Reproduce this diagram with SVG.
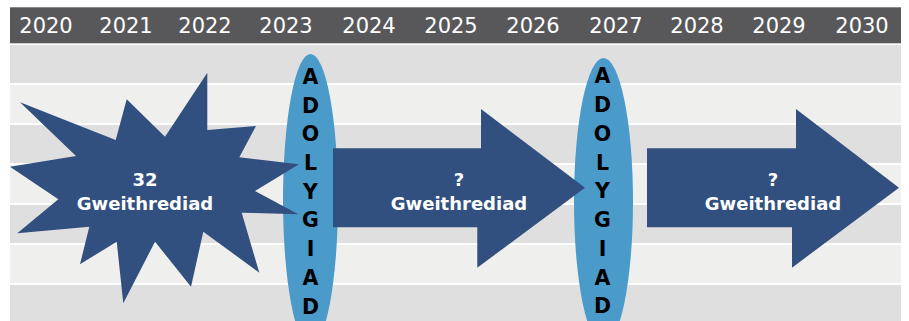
<svg xmlns="http://www.w3.org/2000/svg" width="909" height="321" viewBox="0 0 909 321">
  <style>
    .band-d { fill: #dfdfdf; }
    .band-l { fill: #efefee; }
    .year { font-family: "DejaVu Sans", "Liberation Sans", sans-serif; font-size: 21px; fill: #ffffff; text-anchor: middle; }
    .shape { fill: #31507f; }
    .review { fill: #4a9bca; }
    .vlet { font-family: "DejaVu Sans", "Liberation Sans", sans-serif; font-size: 20.5px; font-weight: bold; fill: #000000; text-anchor: middle; }
    .lbl { font-family: "DejaVu Sans", "Liberation Sans", sans-serif; font-size: 18px; font-weight: bold; fill: #ffffff; text-anchor: middle; }
  </style>
  <rect x="0" y="0" width="909" height="321" fill="#ffffff"/>
  <g id="timeline">
    <rect x="10" y="7.3" width="891" height="36" fill="#58585a"/>
    <rect class="band-d" x="10" y="45" width="891" height="38"/>
    <rect class="band-l" x="10" y="85" width="891" height="38"/>
    <rect class="band-d" x="10" y="125" width="891" height="38"/>
    <rect class="band-l" x="10" y="165" width="891" height="38"/>
    <rect class="band-d" x="10" y="205" width="891" height="38"/>
    <rect class="band-l" x="10" y="245" width="891" height="38"/>
    <rect class="band-d" x="10" y="285" width="891" height="36"/>
    <text class="year" x="46" y="33">2020</text>
    <text class="year" x="126" y="33">2021</text>
    <text class="year" x="205" y="33">2022</text>
    <text class="year" x="286" y="33">2023</text>
    <text class="year" x="369" y="33">2024</text>
    <text class="year" x="451" y="33">2025</text>
    <text class="year" x="533" y="33">2026</text>
    <text class="year" x="616" y="33">2027</text>
    <text class="year" x="697" y="33">2028</text>
    <text class="year" x="779" y="33">2029</text>
    <text class="year" x="862" y="33">2030</text>
  </g>
  <g id="review1">
    <ellipse class="review" cx="310.5" cy="200" rx="27.5" ry="146"/>
  </g>
  <g id="review2">
    <ellipse class="review" cx="603.5" cy="201.5" rx="29.5" ry="143.5"/>
  </g>
  <g id="star">
    <polygon class="shape" points="10,166.7 76,156 20,102.3 115.7,140 126.7,99.3 165,136.7 207.3,72.7 207.3,130 256,126 239.3,157.3 299,164.3 255,191 298.3,214.3 241.7,212.7 259.3,272.7 203.3,231.7 191,286.7 155,241.7 123.3,303.3 116.7,241.7 80,264.3 89.3,226.7 17.3,233.3 58.3,199.3"/>
    <text class="lbl" x="145" y="186">32</text>
    <text class="lbl" x="145" y="210">Gweithrediad</text>
  </g>
  <g id="arrow1">
    <polygon class="shape" points="333,148.3 481,148.3 481,109 585,187.7 477.3,267.7 477.3,227.3 333,227.3"/>
    <text class="lbl" x="459" y="186">?</text>
    <text class="lbl" x="459" y="210">Gweithrediad</text>
  </g>
  <g id="arrow2">
    <polygon class="shape" points="647,148.3 796,148.3 796,109 899,187.7 792,267.7 792,227.3 647,227.3"/>
    <text class="lbl" x="773" y="186">?</text>
    <text class="lbl" x="773" y="210">Gweithrediad</text>
  </g>
  <g id="review1-label">
    <text class="vlet" x="310.5" y="84">A</text>
    <text class="vlet" x="310.5" y="112.5">D</text>
    <text class="vlet" x="310.5" y="141.2">O</text>
    <text class="vlet" x="310.5" y="170">L</text>
    <text class="vlet" x="310.5" y="198.7">Y</text>
    <text class="vlet" x="310.5" y="227.4">G</text>
    <text class="vlet" x="310.5" y="256">I</text>
    <text class="vlet" x="310.5" y="284.8">A</text>
    <text class="vlet" x="310.5" y="313.5">D</text>
  </g>
  <g id="review2-label">
    <text class="vlet" x="602.5" y="83.3">A</text>
    <text class="vlet" x="602.5" y="112.3">D</text>
    <text class="vlet" x="602.5" y="141">O</text>
    <text class="vlet" x="602.5" y="169.8">L</text>
    <text class="vlet" x="602.5" y="198.3">Y</text>
    <text class="vlet" x="602.5" y="227">G</text>
    <text class="vlet" x="602.5" y="255.6">I</text>
    <text class="vlet" x="602.5" y="284.5">A</text>
    <text class="vlet" x="602.5" y="313.3">D</text>
  </g>
  <g id="connectors"/>
</svg>
